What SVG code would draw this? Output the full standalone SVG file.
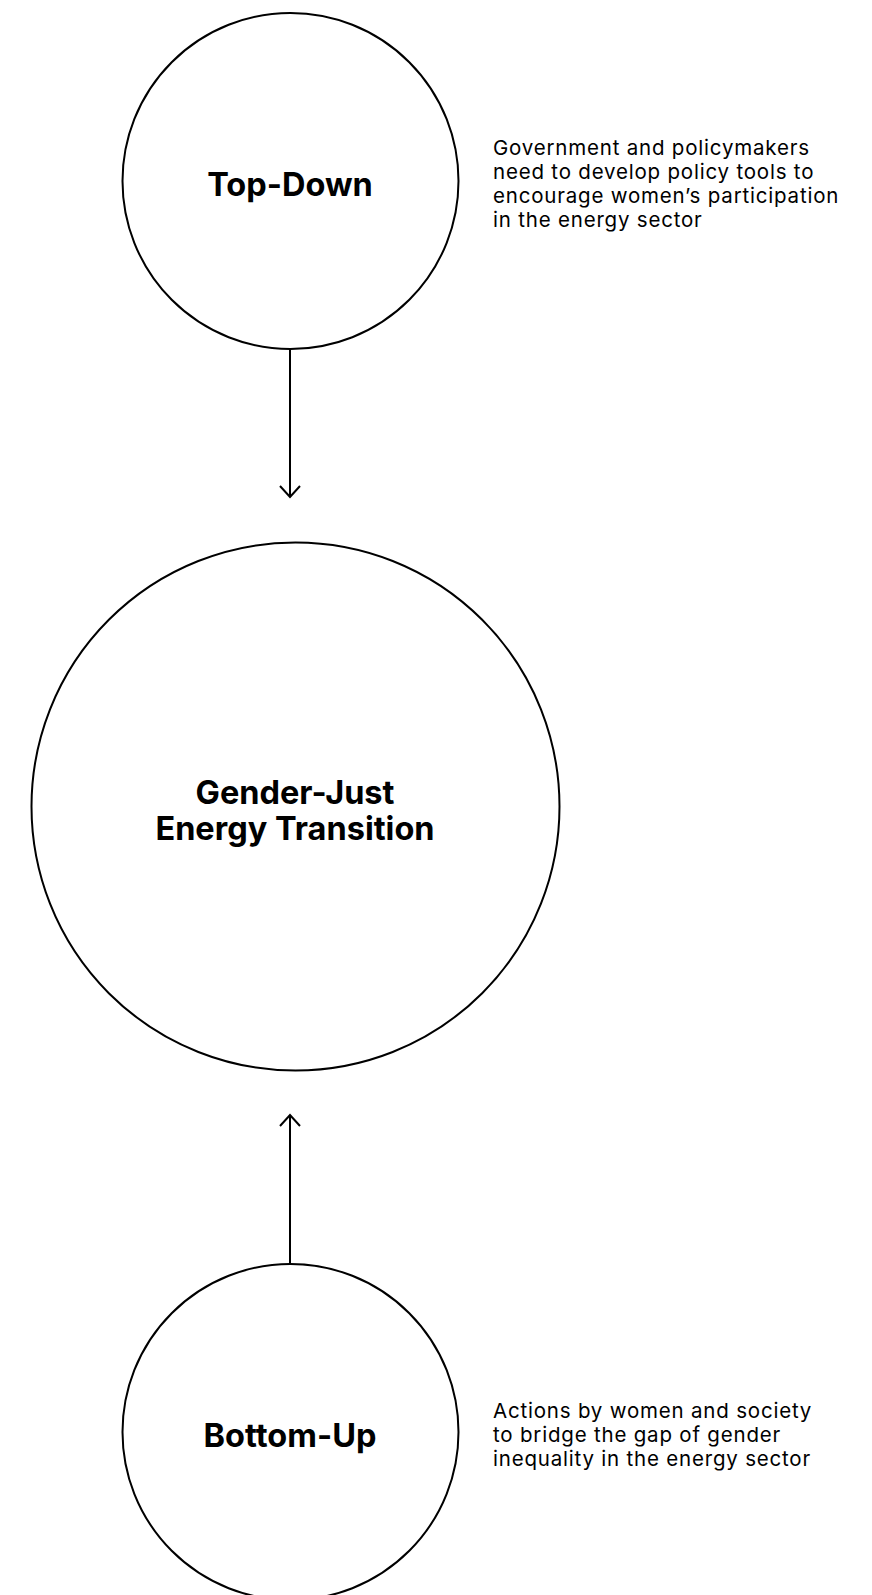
<svg xmlns="http://www.w3.org/2000/svg" width="872" height="1595" viewBox="0 0 872 1595">
<style>
.node circle{fill:#fff;stroke:#000;stroke-width:2}
.title{font-family:Inter,"Liberation Sans",sans-serif;font-weight:700;font-size:32.5px;fill:#000;text-anchor:middle}
.desc{font-family:Inter,"Liberation Sans",sans-serif;font-weight:400;font-size:20.5px;fill:#000;letter-spacing:0.8px}
.conn line{stroke:#000;stroke-width:2}
.conn path{fill:none;stroke:#000;stroke-width:2}
</style>
<rect width="872" height="1595" fill="#fff"/>
<g id="connectors" class="conn">
<line x1="290" y1="348" x2="290" y2="497"/>
<path d="M280 486 L290 497 L300 486"/>
<line x1="290" y1="1264" x2="290" y2="1115"/>
<path d="M280 1126 L290 1115 L300 1126"/>
</g>
<g id="top-down" class="node">
<circle cx="290.5" cy="181" r="168"/>
<text class="title" x="290" y="196">Top-Down</text>
</g>
<g id="top-down-desc">
<text class="desc" x="493" y="155">Government and policymakers</text>
<text class="desc" x="493" y="179">need to develop policy tools to</text>
<text class="desc" x="493" y="203">encourage women’s participation</text>
<text class="desc" x="493" y="227">in the energy sector</text>
</g>
<g id="gender-just" class="node">
<circle cx="295.5" cy="806.5" r="264"/>
<text class="title" x="295" y="804">Gender-Just</text>
<text class="title" x="295" y="840">Energy Transition</text>
</g>
<g id="bottom-up" class="node">
<circle cx="290.5" cy="1432" r="168"/>
<text class="title" x="290" y="1447">Bottom-Up</text>
</g>
<g id="bottom-up-desc">
<text class="desc" x="493" y="1418">Actions by women and society</text>
<text class="desc" x="493" y="1442">to bridge the gap of gender</text>
<text class="desc" x="493" y="1466">inequality in the energy sector</text>
</g>
</svg>
